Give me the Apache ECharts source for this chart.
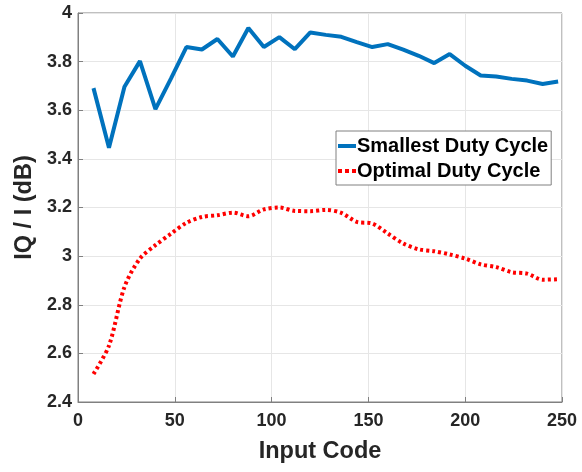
<!DOCTYPE html>
<html>
<head>
<meta charset="utf-8">
<script src="https://cdn.jsdelivr.net/npm/echarts@6/dist/echarts.min.js"></script>
<style>html,body{margin:0;padding:0;background:#fff}#chart{width:582px;height:472px}</style>
</head>
<body>
<div id="chart"></div>
<script>
// input codes, step 8
var codes = [8, 16, 24, 32, 40, 48, 56, 64, 72, 80, 88, 96, 104, 112, 120, 128,
             136, 144, 152, 160, 168, 176, 184, 192, 200, 208, 216, 224, 232, 240, 248];
var smallest = [3.691, 3.446, 3.697, 3.802, 3.605, 3.73, 3.86, 3.85, 3.893, 3.821, 3.938,
                3.86, 3.901, 3.851, 3.92, 3.91, 3.902, 3.88, 3.86, 3.872, 3.849, 3.824,
                3.794, 3.831, 3.783, 3.743, 3.739, 3.729, 3.722, 3.708, 3.718];
var optimal = [2.515, 2.632, 2.873, 2.99, 3.045, 3.092, 3.137, 3.161, 3.168, 3.179, 3.164,
               3.192, 3.2, 3.186, 3.185, 3.19, 3.178, 3.141, 3.134, 3.093, 3.052, 3.028,
               3.02, 3.007, 2.99, 2.966, 2.955, 2.934, 2.928, 2.903, 2.905];

function pairs(ys) {
    return codes.map(function (c, i) { return [c, ys[i]]; });
}

var chart = echarts.init(document.getElementById('chart'));

var FONT = 'Liberation Sans, Arial, sans-serif';
var tickFont = {
    fontFamily: FONT,
    fontWeight: 'bold',
    fontSize: 18,
    color: '#262626'
};
var nameFont = {
    fontFamily: FONT,
    fontWeight: 'bold',
    fontSize: 23.5,
    color: '#262626'
};

option = {
    backgroundColor: '#fff',
    animation: false,
    grid: {
        left: 78,
        right: 20,
        top: 13,
        bottom: 70,
        show: true,
        borderColor: '#808080',
        borderWidth: 1
    },
    legend: {
        left: 336,
        top: 131,
        orient: 'vertical',
        itemWidth: 18,
        itemHeight: 5,
        itemGap: 5,
        padding: [5, 3, 4, 2],
        borderColor: '#808080',
        borderWidth: 1,
        backgroundColor: '#fff',
        textStyle: {
            fontFamily: FONT,
            fontWeight: 'bold',
            fontSize: 20,
            color: '#000',
            padding: [0, 0, 0, -4]
        },
        data: [
            { name: 'Smallest Duty Cycle', icon: 'path://M0,0h18v4h-18z' },
            { name: 'Optimal Duty Cycle', icon: 'path://M0,0h4v4h-4z M7,0h4v4h-4z M14,0h4v4h-4z' }
        ]
    },
    xAxis: {
        type: 'value',
        min: 0,
        max: 250,
        interval: 50,
        name: 'Input Code',
        nameLocation: 'middle',
        nameGap: 38,
        nameTextStyle: nameFont,
        axisLine: { lineStyle: { color: '#808080' } },
        axisTick: { inside: true, length: 5, lineStyle: { color: '#808080' } },
        axisLabel: Object.assign({ margin: 10 }, tickFont),
        splitLine: { lineStyle: { color: '#e6e6e6' } }
    },
    yAxis: {
        type: 'value',
        min: 2.4,
        max: 4,
        interval: 0.2,
        name: 'IQ / I (dB)',
        nameLocation: 'middle',
        nameGap: 41,
        nameTextStyle: nameFont,
        axisLine: { show: true, lineStyle: { color: '#808080' } },
        axisTick: { show: true, inside: true, length: 5, lineStyle: { color: '#808080' } },
        axisLabel: Object.assign({
            margin: 6,
            formatter: function (v) { return String(Math.round(v * 10) / 10); }
        }, tickFont),
        splitLine: { lineStyle: { color: '#e6e6e6' } }
    },
    series: [
        {
            name: 'Smallest Duty Cycle',
            type: 'line',
            symbol: 'none',
            data: pairs(smallest),
            itemStyle: { color: '#0072bd' },
            lineStyle: { color: '#0072bd', width: 4 }
        },
        {
            name: 'Optimal Duty Cycle',
            type: 'line',
            symbol: 'none',
            smooth: 0.3,
            data: pairs(optimal),
            itemStyle: { color: '#ff0000' },
            lineStyle: { color: '#ff0000', width: 4, type: [3, 3] }
        }
    ]
};

chart.setOption(option);
</script>
</body>
</html>
